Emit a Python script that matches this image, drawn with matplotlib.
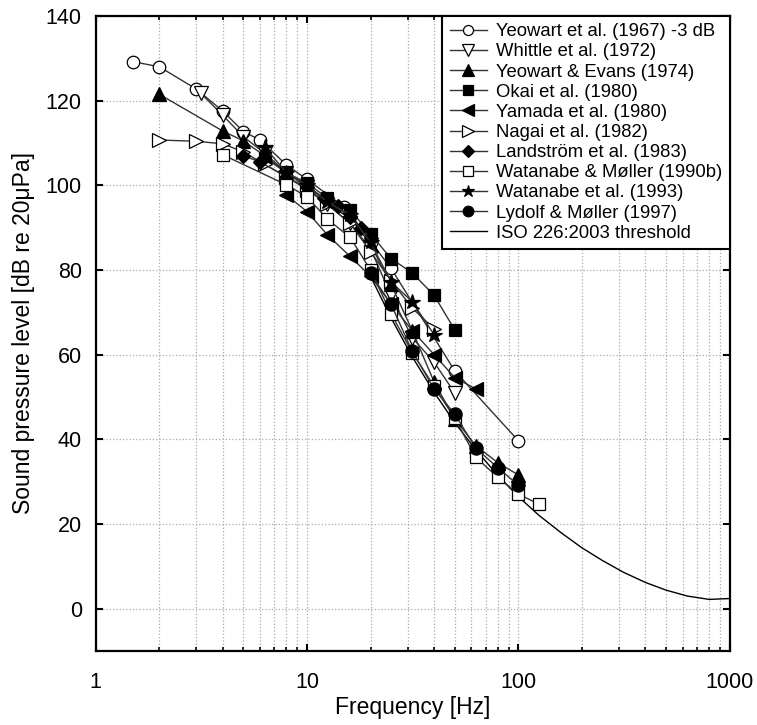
import matplotlib
matplotlib.use("Agg")
import matplotlib.pyplot as plt
from matplotlib.ticker import FixedLocator, FuncFormatter, LogLocator, NullFormatter

plt.rcParams['font.family'] = ['Liberation Sans', 'DejaVu Sans']

# ---- data ----
yeowart67_f = [1.5, 2, 3, 4, 5, 6, 8, 10, 15, 25, 50, 100]
yeowart67_L = [129.2, 128.0, 122.7, 117.5, 112.7, 110.7, 104.8, 101.4, 94.9, 80.4, 56.2, 39.7]

whittle_f = [3.15, 4, 5, 6.3, 8, 10, 12.5, 16, 20, 25, 31.5, 40, 50]
whittle_L = [121.7, 116.5, 111.5, 107.6, 103.0, 99.5, 95.5, 91.0, 85.0, 74.0, 64.0, 58.2, 51.0]

yeowart74_f = [2, 4, 5, 6.3, 8, 10, 12.5, 16, 20, 25, 31.5, 40, 50, 63, 80, 100]
yeowart74_L = [121.5, 112.8, 110.5, 107.0, 103.0, 99.8, 96.5, 92.5, 86.0, 76.6, 65.7, 53.5, 44.8, 38.5, 34.5, 31.6]

okai_f = [6.3, 8, 10, 12.5, 16, 20, 25, 31.5, 40, 50]
okai_L = [106.5, 103.0, 100.5, 97.0, 94.2, 88.5, 82.7, 79.3, 74.0, 65.9]

yamada_f = [8, 10, 12.5, 16, 20, 25, 31.5, 40, 50, 63]
yamada_L = [97.7, 93.8, 88.3, 83.2, 78.5, 72.0, 65.7, 60.0, 54.6, 51.9]

nagai_f = [2, 3, 4, 5, 6.3, 8, 10, 12.5, 16, 20, 25, 31.5, 40]
nagai_L = [110.7, 110.4, 109.8, 107.9, 105.0, 102.0, 99.0, 95.5, 91.0, 84.3, 77.5, 71.0, 66.1]

landstrom_f = [5, 6, 8, 10, 12, 14, 16, 18, 20]
landstrom_L = [107.0, 105.5, 102.0, 99.5, 97.0, 95.0, 92.5, 89.8, 87.5]

watanabe90_f = [4, 8, 10, 12.5, 16, 20, 25, 31.5, 40, 50, 63, 80, 100, 125]
watanabe90_L = [107.2, 100.1, 97.3, 92.0, 87.7, 80.0, 69.7, 60.5, 52.5, 45.0, 35.8, 31.0, 27.1, 24.7]

watanabe93_f = [6.3, 8, 10, 12.5, 16, 20, 25, 31.5, 40]
watanabe93_L = [109.0, 103.0, 100.0, 96.0, 93.0, 86.5, 77.2, 72.5, 64.7]

lydolf_f = [20, 25, 31.5, 40, 50, 63, 80, 100]
lydolf_L = [79.2, 71.9, 60.8, 51.9, 46.0, 37.9, 33.3, 29.2]

iso_f = [20, 25, 31.5, 40, 50, 63, 80, 100, 125, 160, 200, 250, 315, 400, 500, 630, 800, 1000]
iso_L = [78.5, 68.7, 59.5, 51.1, 44.0, 37.5, 31.5, 26.5, 22.1, 17.9, 14.4, 11.4, 8.6, 6.2, 4.4, 3.0, 2.2, 2.4]

labels = ["Yeowart et al. (1967) -3 dB", "Whittle et al. (1972)", "Yeowart & Evans (1974)",
          "Okai et al. (1980)", "Yamada et al. (1980)", "Nagai et al. (1982)",
          "Landström et al. (1983)", "Watanabe & Møller (1990b)", "Watanabe et al. (1993)",
          "Lydolf & Møller (1997)", "ISO 226:2003 threshold"]
x_ticks = [1, 10, 100, 1000]
y_ticks = [0, 20, 40, 60, 80, 100, 120, 140]

series = [
    (yeowart67_f, yeowart67_L, 'o', 'white', 9),
    (whittle_f, whittle_L, 'v', 'white', 10.5),
    (yeowart74_f, yeowart74_L, '^', 'black', 10),
    (okai_f, okai_L, 's', 'black', 8.5),
    (yamada_f, yamada_L, '<', 'black', 10.5),
    (nagai_f, nagai_L, '>', 'white', 10.5),
    (landstrom_f, landstrom_L, 'D', 'black', 7.5),
    (watanabe90_f, watanabe90_L, 's', 'white', 8.5),
    (watanabe93_f, watanabe93_L, '*', 'black', 11.5),
    (lydolf_f, lydolf_L, 'o', 'black', 9.5),
]

fig = plt.figure(figsize=(7.57, 7.25), dpi=100)
ax = fig.add_axes([0.1264, 0.102, 0.8373, 0.876])

for (f, L, m, fc, ms), lab in zip(series, labels):
    ax.plot(f, L, color='#333333', lw=1.0, marker=m, markersize=ms,
            markerfacecolor=fc, markeredgecolor='black', markeredgewidth=0.9,
            label=lab, zorder=3)
ax.plot(iso_f, iso_L, color='black', lw=1.0, label=labels[-1], zorder=2)

ax.set_xscale('log')
ax.set_xlim(1, 1000)
ax.set_ylim(-10, 140)
ax.xaxis.set_major_locator(FixedLocator(x_ticks))
ax.xaxis.set_major_formatter(FuncFormatter(lambda v, p: f"{v:g}"))
ax.xaxis.set_minor_locator(LogLocator(base=10, subs=range(2, 10)))
ax.xaxis.set_minor_formatter(NullFormatter())
ax.yaxis.set_major_locator(FixedLocator(y_ticks))

ax.grid(True, which='major', axis='both', color='#aaaaaa', ls=':', lw=0.9)
ax.grid(True, which='minor', axis='x', color='#aaaaaa', ls=':', lw=0.9)

ax.tick_params(which='both', direction='in', top=True, right=True, labelsize=15.5)
ax.tick_params(axis='y', which='both', pad=10)
ax.tick_params(axis='x', which='both', pad=15)
ax.tick_params(which='major', length=5, width=1.5)
ax.tick_params(which='minor', length=3, width=1.2)
for s in ax.spines.values():
    s.set_linewidth(1.6)

ax.set_xlabel("Frequency [Hz]", fontsize=16.5, labelpad=2)
ax.set_ylabel("Sound pressure level [dB re 20\u03bcPa]", fontsize=16.5, labelpad=8)

leg = ax.legend(loc='upper right', bbox_to_anchor=(1, 1), borderaxespad=0, fontsize=13.3,
                frameon=True, fancybox=False, edgecolor='black', framealpha=1,
                labelspacing=0.17, handlelength=2.0, handletextpad=0.5,
                borderpad=0.4, markerscale=0.8)
leg.get_frame().set_linewidth(1.5)

fig.savefig("out.png", dpi=100)
